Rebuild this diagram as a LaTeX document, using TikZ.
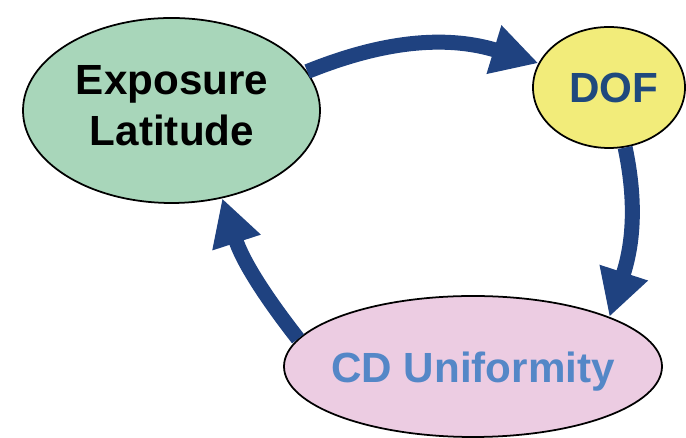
\documentclass[tikz,border=0pt]{standalone}
\usepackage{fontspec}
\setmainfont{Liberation Sans}
\usetikzlibrary{shapes.geometric,arrows.meta}
\definecolor{latgreen}{RGB}{168,214,186}
\definecolor{dofyellow}{RGB}{242,236,122}
\definecolor{cdpink}{RGB}{236,204,226}
\definecolor{arrowblue}{RGB}{31,66,128}
\definecolor{dofblue}{RGB}{31,73,125}
\definecolor{cdblue}{RGB}{84,135,199}
\begin{document}
\begin{tikzpicture}[
  blob/.style={draw, ellipse, line width=1pt, inner sep=0pt},
  label/.style={inner sep=0pt, align=center, font=\fontsize{24}{29}\selectfont\bfseries},
  arrow/.style={-{Triangle[length=0.93cm, width=0.95cm]}, line width=0.3cm, arrowblue}
]
\useasboundingbox (0,0) rectangle (13.72,8.76);
\node[blob, fill=latgreen, minimum width=5.94cm, minimum height=3.70cm] (lat) at (3.43,6.55) {};
\node[blob, fill=dofyellow, minimum width=3.04cm, minimum height=2.42cm] (dof) at (12.18,7.01) {};
\node[blob, fill=cdpink, minimum width=7.56cm, minimum height=2.82cm] (cd) at (9.46,1.43) {};
\node[label] (latText) at (3.44,6.64) {Exposure\\Latitude};
\node[label, text=dofblue, anchor=base] (dofText) at (12.27,6.70) {DOF};
\node[label, text=cdblue, anchor=base] (cdText) at (9.46,1.10) {CD Uniformity};
\draw[arrow] (lat.16) to[out=22, in=163] (dof.161);
\draw[arrow] (dof.-75) to[out=-78, in=72] (cd.20);
\draw[arrow] (cd.171) to[out=128, in=-72] (lat.-60);
\end{tikzpicture}
\end{document}
